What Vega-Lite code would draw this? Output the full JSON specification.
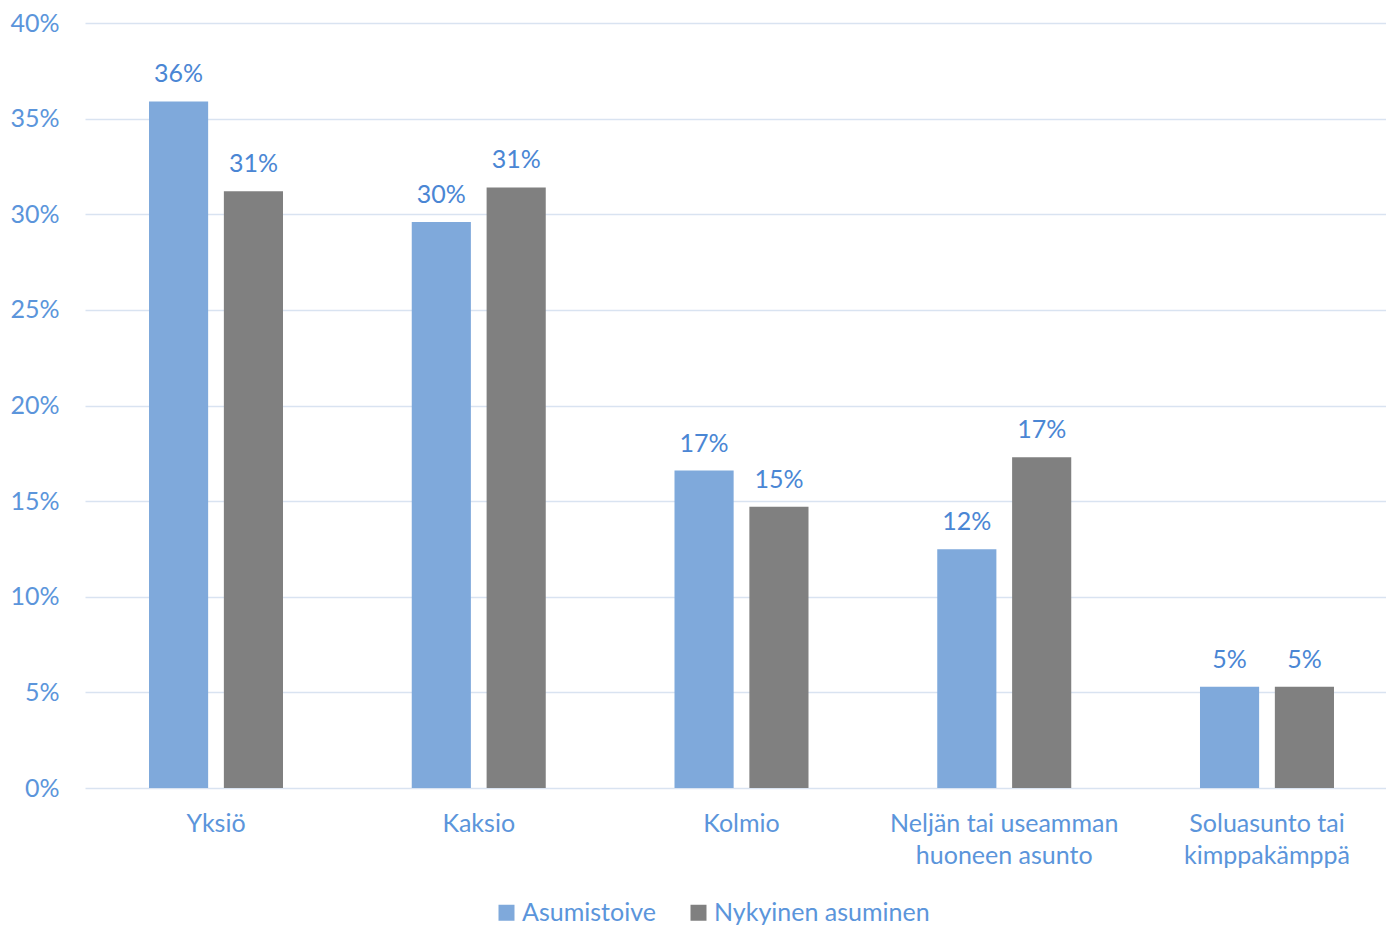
{
  "$schema": "https://vega.github.io/schema/vega-lite/v6.json",
  "width": 1313,
  "height": 765,
  "autosize": "none",
  "padding": {"left": 85, "top": 23, "right": 0, "bottom": 138},
  "background": "white",
  "config": {
    "font": "Lato",
    "view": {"stroke": null},
    "axis": {"labelFont": "Lato", "labelColor": "#5B95DB", "labelFontSize": 25, "labelLimit": 400}
  },
  "data": {
    "values": [
      {"kategoria": "Yksiö", "sarja": "Asumistoive", "arvo": 0.359},
      {"kategoria": "Yksiö", "sarja": "Nykyinen asuminen", "arvo": 0.312},
      {"kategoria": "Kaksio", "sarja": "Asumistoive", "arvo": 0.296},
      {"kategoria": "Kaksio", "sarja": "Nykyinen asuminen", "arvo": 0.314},
      {"kategoria": "Kolmio", "sarja": "Asumistoive", "arvo": 0.166},
      {"kategoria": "Kolmio", "sarja": "Nykyinen asuminen", "arvo": 0.147},
      {"kategoria": "Neljän tai useamman huoneen asunto", "sarja": "Asumistoive", "arvo": 0.1249},
      {"kategoria": "Neljän tai useamman huoneen asunto", "sarja": "Nykyinen asuminen", "arvo": 0.173},
      {"kategoria": "Soluasunto tai kimppakämppä", "sarja": "Asumistoive", "arvo": 0.053},
      {"kategoria": "Soluasunto tai kimppakämppä", "sarja": "Nykyinen asuminen", "arvo": 0.053}
    ]
  },
  "encoding": {
    "x": {
      "field": "kategoria",
      "type": "nominal",
      "sort": null,
      "scale": {"paddingInner": 0.49, "paddingOuter": 0.2436},
      "axis": {
        "title": null,
        "labelAngle": 0,
        "domain": false,
        "ticks": false,
        "grid": false,
        "labelPadding": 23,
        "labelBaseline": "top",
        "labelLineHeight": 32,
        "labelExpr": "datum.label == 'Neljän tai useamman huoneen asunto' ? ['Neljän tai useamman', 'huoneen asunto'] : datum.label == 'Soluasunto tai kimppakämppä' ? ['Soluasunto tai', 'kimppakämppä'] : datum.label"
      }
    },
    "xOffset": {
      "field": "sarja",
      "type": "nominal",
      "scale": {"paddingInner": 0.21, "paddingOuter": 0}
    },
    "y": {
      "field": "arvo",
      "type": "quantitative",
      "scale": {"domain": [0, 0.4], "nice": false},
      "axis": {
        "title": null,
        "format": ".0%",
        "values": [0, 0.05, 0.1, 0.15, 0.2, 0.25, 0.3, 0.35, 0.4],
        "labelOverlap": false,
        "domain": false,
        "ticks": false,
        "labelPadding": 26,
        "gridColor": "#D9E3F1",
        "gridWidth": 1.5
      }
    }
  },
  "layer": [
    {
      "mark": {"type": "bar"},
      "encoding": {
        "color": {
          "field": "sarja",
          "type": "nominal",
          "scale": {"domain": ["Asumistoive", "Nykyinen asuminen"], "range": ["#7FA9DB", "#808080"]},
          "legend": {
            "title": null,
            "orient": "none",
            "direction": "horizontal",
            "legendX": 409,
            "legendY": 877,
            "symbolType": "square",
            "symbolSize": 256,
            "symbolStrokeWidth": 0,
            "labelFontSize": 25,
            "labelColor": "#5B95DB",
            "labelFont": "Lato",
            "labelOffset": 3,
            "labelLimit": 400,
            "columnPadding": 30
          }
        }
      }
    },
    {
      "mark": {"type": "text", "baseline": "bottom", "dy": -14, "fontSize": 25, "color": "#4A86D4", "font": "Lato"},
      "encoding": {
        "text": {"field": "arvo", "type": "quantitative", "format": ".0%"}
      }
    }
  ]
}
